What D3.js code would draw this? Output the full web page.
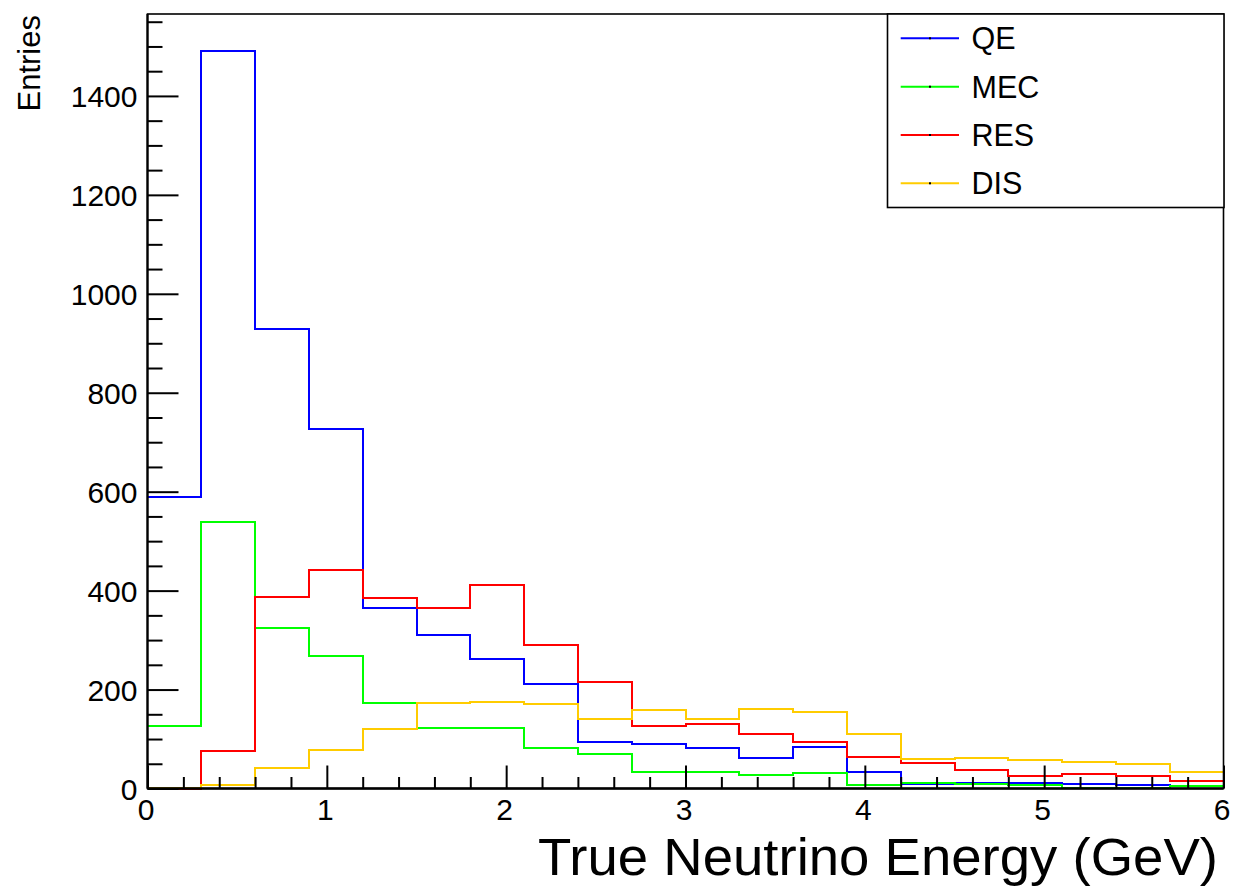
<!DOCTYPE html>
<html>
<head>
<meta charset="utf-8">
<script src="https://cdn.jsdelivr.net/npm/d3@7"></script>
<style>
  html, body { margin: 0; padding: 0; background: #fff; }
  svg { display: block; }
  text { font-family: "Liberation Sans", Arial, Helvetica, sans-serif; fill: #000; }
</style>
</head>
<body>
<svg id="chart" width="1234" height="888"></svg>
<script>
// ---- data ----
const binEdges = [0, 0.3, 0.6, 0.9, 1.2, 1.5, 1.8, 2.1, 2.4, 2.7, 3.0, 3.3, 3.6, 3.9, 4.2, 4.5, 4.8, 5.1, 5.4, 5.7, 6.0];
const seriesNames = ["QE", "MEC", "RES", "DIS"];
const qeValues  = [590, 1490, 928, 726, 365, 310, 262, 211, 95, 90, 82, 62, 83, 33, 10, 12, 12, 9, 8, 5];
const mecValues = [127, 538, 324, 268, 173, 123, 122, 82, 69, 33, 33, 28, 31, 7, 11, 9, 8, 2, 2, 5];
const resValues = [0, 76, 387, 441, 386, 365, 412, 291, 215, 126, 130, 111, 94, 63, 52, 37, 25, 29, 26, 16];
const disValues = [1, 8, 41, 78, 120, 173, 175, 171, 140, 159, 141, 161, 155, 110, 59, 61, 57, 54, 50, 33];
const xTickValues = [0, 1, 2, 3, 4, 5, 6];
const yTickValues = [0, 200, 400, 600, 800, 1000, 1200, 1400];
const xTitle = "True Neutrino Energy (GeV)";
const yTitle = "Entries";
const yMax = 1565.6;

const colors = { QE: "#0000ff", MEC: "#00ff00", RES: "#ff0000", DIS: "#ffcc00" };
const seriesValues = { QE: qeValues, MEC: mecValues, RES: resValues, DIS: disValues };

// ---- layout ----
const L = 147.5, R = 1223.5, T = 14, B = 788.5;
const svg = d3.select("#chart");
const x = d3.scaleLinear().domain([0, 6]).range([L, R]);
const y = d3.scaleLinear().domain([0, yMax]).range([B, T]);

// histograms
const stepPath = (vals) => {
  const pts = [];
  vals.forEach((v, i) => {
    pts.push([x(binEdges[i]), y(v)]);
    pts.push([x(binEdges[i + 1]), y(v)]);
  });
  return d3.line()(pts);
};
const hg = svg.append("g");
seriesNames.forEach(name => {
  hg.append("path")
    .attr("d", stepPath(seriesValues[name]))
    .attr("fill", "none")
    .attr("stroke", colors[name])
    .attr("stroke-width", 2)
    .attr("shape-rendering", "crispEdges");
});

// y minor ticks
const yMinor = d3.range(50, 1560, 50).filter(v => v % 200 !== 0);
svg.append("g").attr("transform", `translate(${L},0)`)
  .call(d3.axisLeft(y).tickValues(yMinor).tickSize(-15).tickFormat(""))
  .call(g => g.select(".domain").remove())
  .selectAll("line").attr("stroke", "#000").attr("stroke-width", 2);
// y major
const yAx = svg.append("g").attr("transform", `translate(${L},0)`)
  .call(d3.axisLeft(y).tickValues(yTickValues).tickSize(-31).tickPadding(10).tickFormat(d3.format("d")));
yAx.select(".domain").remove();
yAx.selectAll("line").attr("stroke", "#000").attr("stroke-width", 2);
yAx.selectAll("text").attr("font-size", 30).attr("font-family", "Liberation Sans, Arial, sans-serif").attr("dy", "0.36em");

// x minor ticks
const xMinor = d3.range(1, 30).map(i => i / 5).filter(v => Math.abs(v - Math.round(v)) > 1e-6);
svg.append("g").attr("transform", `translate(0,${B})`)
  .call(d3.axisBottom(x).tickValues(xMinor).tickSize(-11.5).tickFormat(""))
  .call(g => g.select(".domain").remove())
  .selectAll("line").attr("stroke", "#000").attr("stroke-width", 2);
// x major
const xAx = svg.append("g").attr("transform", `translate(0,${B})`)
  .call(d3.axisBottom(x).tickValues(xTickValues).tickSize(-23).tickPadding(10.5).tickFormat(d3.format("d")));
xAx.select(".domain").remove();
xAx.selectAll("line").attr("stroke", "#000").attr("stroke-width", 2);
xAx.selectAll("text").attr("font-size", 30).attr("font-family", "Liberation Sans, Arial, sans-serif").attr("dx", "-2");

// frame
svg.append("rect").attr("x", L).attr("y", T).attr("width", R - L).attr("height", B - T)
  .attr("fill", "none").attr("stroke", "#000").attr("stroke-width", 1.6);
svg.append("line").attr("x1", L).attr("x2", L).attr("y1", T).attr("y2", B).attr("stroke", "#000").attr("stroke-width", 2.2);
svg.append("line").attr("x1", L).attr("x2", R).attr("y1", B).attr("y2", B).attr("stroke", "#000").attr("stroke-width", 2.4);

// titles
svg.append("text").attr("x", 1218).attr("y", 875).attr("text-anchor", "end")
  .attr("font-size", 51).attr("textLength", 680).attr("lengthAdjust", "spacingAndGlyphs").text(xTitle);
svg.append("text").attr("transform", "translate(39.5,15) rotate(-90)").attr("text-anchor", "end")
  .attr("font-size", 31).text(yTitle);

// legend
const lg = svg.append("g");
lg.append("rect").attr("x", 887.5).attr("y", 14).attr("width", 1224 - 887.5).attr("height", 207.5 - 14)
  .attr("fill", "#fff").attr("stroke", "#000").attr("stroke-width", 1.6);
const rowY = [38.3, 86.7, 135, 183.3];
seriesNames.forEach((name, i) => {
  lg.append("line").attr("x1", 900.7).attr("x2", 959).attr("y1", rowY[i]).attr("y2", rowY[i])
    .attr("stroke", colors[name]).attr("stroke-width", 2);
  lg.append("rect").attr("x", 929).attr("y", rowY[i] - 1).attr("width", 2).attr("height", 2).attr("fill", "#000");
  lg.append("text").attr("x", 971.5).attr("y", rowY[i]).attr("dy", "0.36em")
    .attr("font-size", 30.5).text(name);
});
</script>
</body>
</html>
